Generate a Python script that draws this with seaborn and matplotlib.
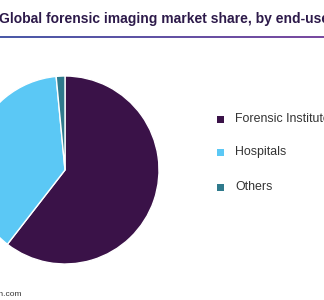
import matplotlib
matplotlib.use("Agg")
import matplotlib.pyplot as plt
import seaborn as sns
import numpy as np
from matplotlib.patches import Rectangle
from matplotlib.colors import LinearSegmentedColormap

categories = ["Forensic Institute", "Hospitals", "Others"]
shares = [60.5, 38.0, 1.5]
colors = ["#3a1248", "#5bc8f5", "#2f7a8c"]
title = "Global forensic imaging market share, by end-use"
footer = "www.grandviewresearch.com"

sns.set_theme(style="white")
plt.rcParams['font.family'] = ['Liberation Sans', 'DejaVu Sans']

fig = plt.figure(figsize=(3.24, 3.0), dpi=100)
W, H = 324, 300

# pie axes: center (65,170) px, radius 94 px
r = 94
cx, cy = 65, 170
ax = fig.add_axes([(cx - r) / W, 1 - (cy + r) / H, 2 * r / W, 2 * r / H])
wedges, _ = ax.pie(shares, colors=colors, startangle=90, counterclock=False,
                   wedgeprops=dict(edgecolor="white", linewidth=1.0))
ax.set_xlim(-1, 1)
ax.set_ylim(-1, 1)
ax.set_aspect("equal")
ax.axis("off")

# title
fig.text(-1 / W, 1 - 22.5 / H, title, fontsize=10.0, fontweight="bold",
         color="#2d1a4a", ha="left", va="baseline")
# gradient line under title
lax = fig.add_axes([0, 1 - 38.5 / H, 1, 2.5 / H])
lax.axis("off")
grad = np.linspace(0, 1, 256).reshape(1, -1)
cmap = LinearSegmentedColormap.from_list("g", ["#4a5aa8", "#7a4aa0"])
lax.imshow(grad, aspect="auto", cmap=cmap, extent=[0, 1, 0, 1])
lax.set_xlim(0, 1)
lax.set_ylim(0, 1)

# legend
leg_y = [119.5, 152.5, 187.5]
for name, col, y in zip(categories, colors, leg_y):
    fig.patches.append(Rectangle((217 / W, 1 - (y + 3.5) / H), 7 / W, 7 / H,
                                 transform=fig.transFigure, facecolor=col,
                                 edgecolor="none"))
    fig.text(235 / W, 1 - y / H, name, fontsize=8.9, color="#333333",
             ha="left", va="center")

# footer (cropped at the left edge as in the reference)
fig.text(21.5 / W, 1 - 296 / H, footer, fontsize=6.0, color="#333333",
         ha="right", va="baseline")

fig.savefig("out.png", dpi=100)
